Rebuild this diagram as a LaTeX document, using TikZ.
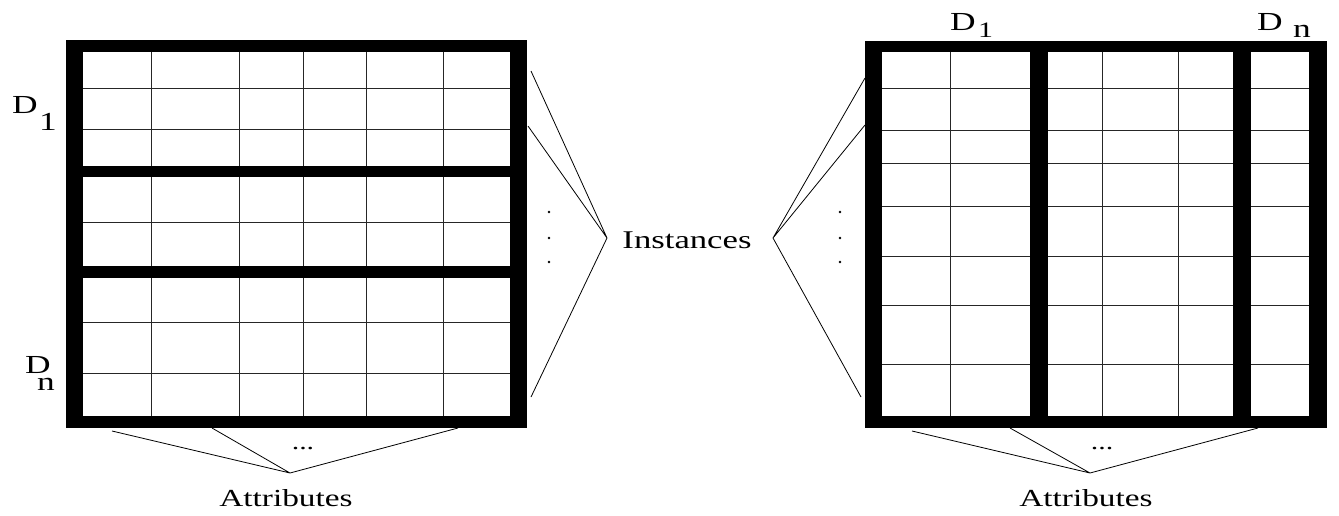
\documentclass[tikz,border=0pt]{standalone}
\usepackage{fontspec}
\setmainfont{Liberation Serif}
\newcommand\widetext[1]{\scalebox{1.36}[1]{#1}}
\begin{document}
\begin{tikzpicture}[x=1pt,y=-1pt,
  rule/.style={line width=0.9pt, black!85},
  link/.style={line width=0.8pt, black},
  dlabel/.style={inner sep=0pt, anchor=base west, font=\fontsize{26}{30}\selectfont},
  caption/.style={inner sep=0pt, anchor=base, font=\fontsize{24.5}{28}\selectfont},
  vdot/.style={fill=black, circle, inner sep=0pt, minimum size=2.8pt}
]
\useasboundingbox (0,0) rectangle (1339,515);

% ---- horizontally partitioned table ----
\fill[black] (66,40) rectangle (527,428);
\fill[white] (83,52) rectangle (510,416);
\foreach \x in {151,239,303,366,443} \draw[rule] (\x,52) -- (\x,416);
\foreach \y in {88,129,222,322,373} \draw[rule] (83,\y) -- (510,\y);
\fill[black] (83,166) rectangle (510,177);
\fill[black] (83,266) rectangle (510,278);

% ---- vertically partitioned table ----
\fill[black] (865,41) rectangle (1327,428);
\fill[white] (882,52) rectangle (1309,416);
\foreach \x in {950,1102,1178} \draw[rule] (\x,52) -- (\x,416);
\foreach \y in {88,130,163,206,256,305,364} \draw[rule] (882,\y) -- (1309,\y);
\fill[black] (1030,52) rectangle (1048,416);
\fill[black] (1233,52) rectangle (1251,416);

% ---- partition labels ----
\node[dlabel] (lD1) at (12,113) {\widetext{D}};
\node[dlabel] (lD1s) at (39,130) {\widetext{1}};
\node[dlabel] (lDn) at (25,373) {\widetext{D}};
\node[dlabel] (lDns) at (37,390) {\widetext{n}};
\node[dlabel] (rD1) at (950,30) {\widetext{D}};
\node[dlabel, font=\fontsize{22}{26}\selectfont] (rD1s) at (978,37) {\widetext{1}};
\node[dlabel] (rDn) at (1257,30) {\widetext{D}};
\node[dlabel] (rDns) at (1293,37) {\widetext{n}};

% ---- instances ----
\node[caption, font=\fontsize{25.5}{30}\selectfont] (inst) at (687,248) {\widetext{Instances}};
\coordinate (instL) at (607,238);
\coordinate (instR) at (773,238);
\coordinate (lrow1) at (531,71);
\coordinate (lrow2) at (528,126);
\coordinate (lrowN) at (531,397);
\coordinate (rrow1) at (865,78);
\coordinate (rrow2) at (865,125);
\coordinate (rrowN) at (861,397);
\draw[link] (lrow1) -- (instL) (lrow2) -- (instL) (lrowN) -- (instL);
\draw[link] (rrow1) -- (instR) (rrow2) -- (instR) (rrowN) -- (instR);
\foreach \y [count=\i] in {212,238,262} {
  \node[vdot] (ldot\i) at (549,\y) {};
  \node[vdot] (rdot\i) at (840,\y) {};
}

% ---- attributes ----
\node[caption] (attL) at (286,506) {\widetext{Attributes}};
\node[caption] (attR) at (1086,506) {\widetext{Attributes}};
\coordinate (attLtop) at (290,473);
\coordinate (attRtop) at (1090,473);
\coordinate (lcol1) at (112,431);
\coordinate (lcol2) at (212,428);
\coordinate (lcolN) at (458,428);
\coordinate (rcol1) at (912,431);
\coordinate (rcol2) at (1010,428);
\coordinate (rcolN) at (1258,428);
\draw[link] (lcol1) -- (attLtop) (lcol2) -- (attLtop) (lcolN) -- (attLtop);
\draw[link] (rcol1) -- (attRtop) (rcol2) -- (attRtop) (rcolN) -- (attRtop);
\node[caption, font=\fontsize{22}{26}\selectfont] (ellL) at (303,449) {\widetext{...}};
\node[caption, font=\fontsize{22}{26}\selectfont] (ellR) at (1102,449) {\widetext{...}};
\end{tikzpicture}
\end{document}
